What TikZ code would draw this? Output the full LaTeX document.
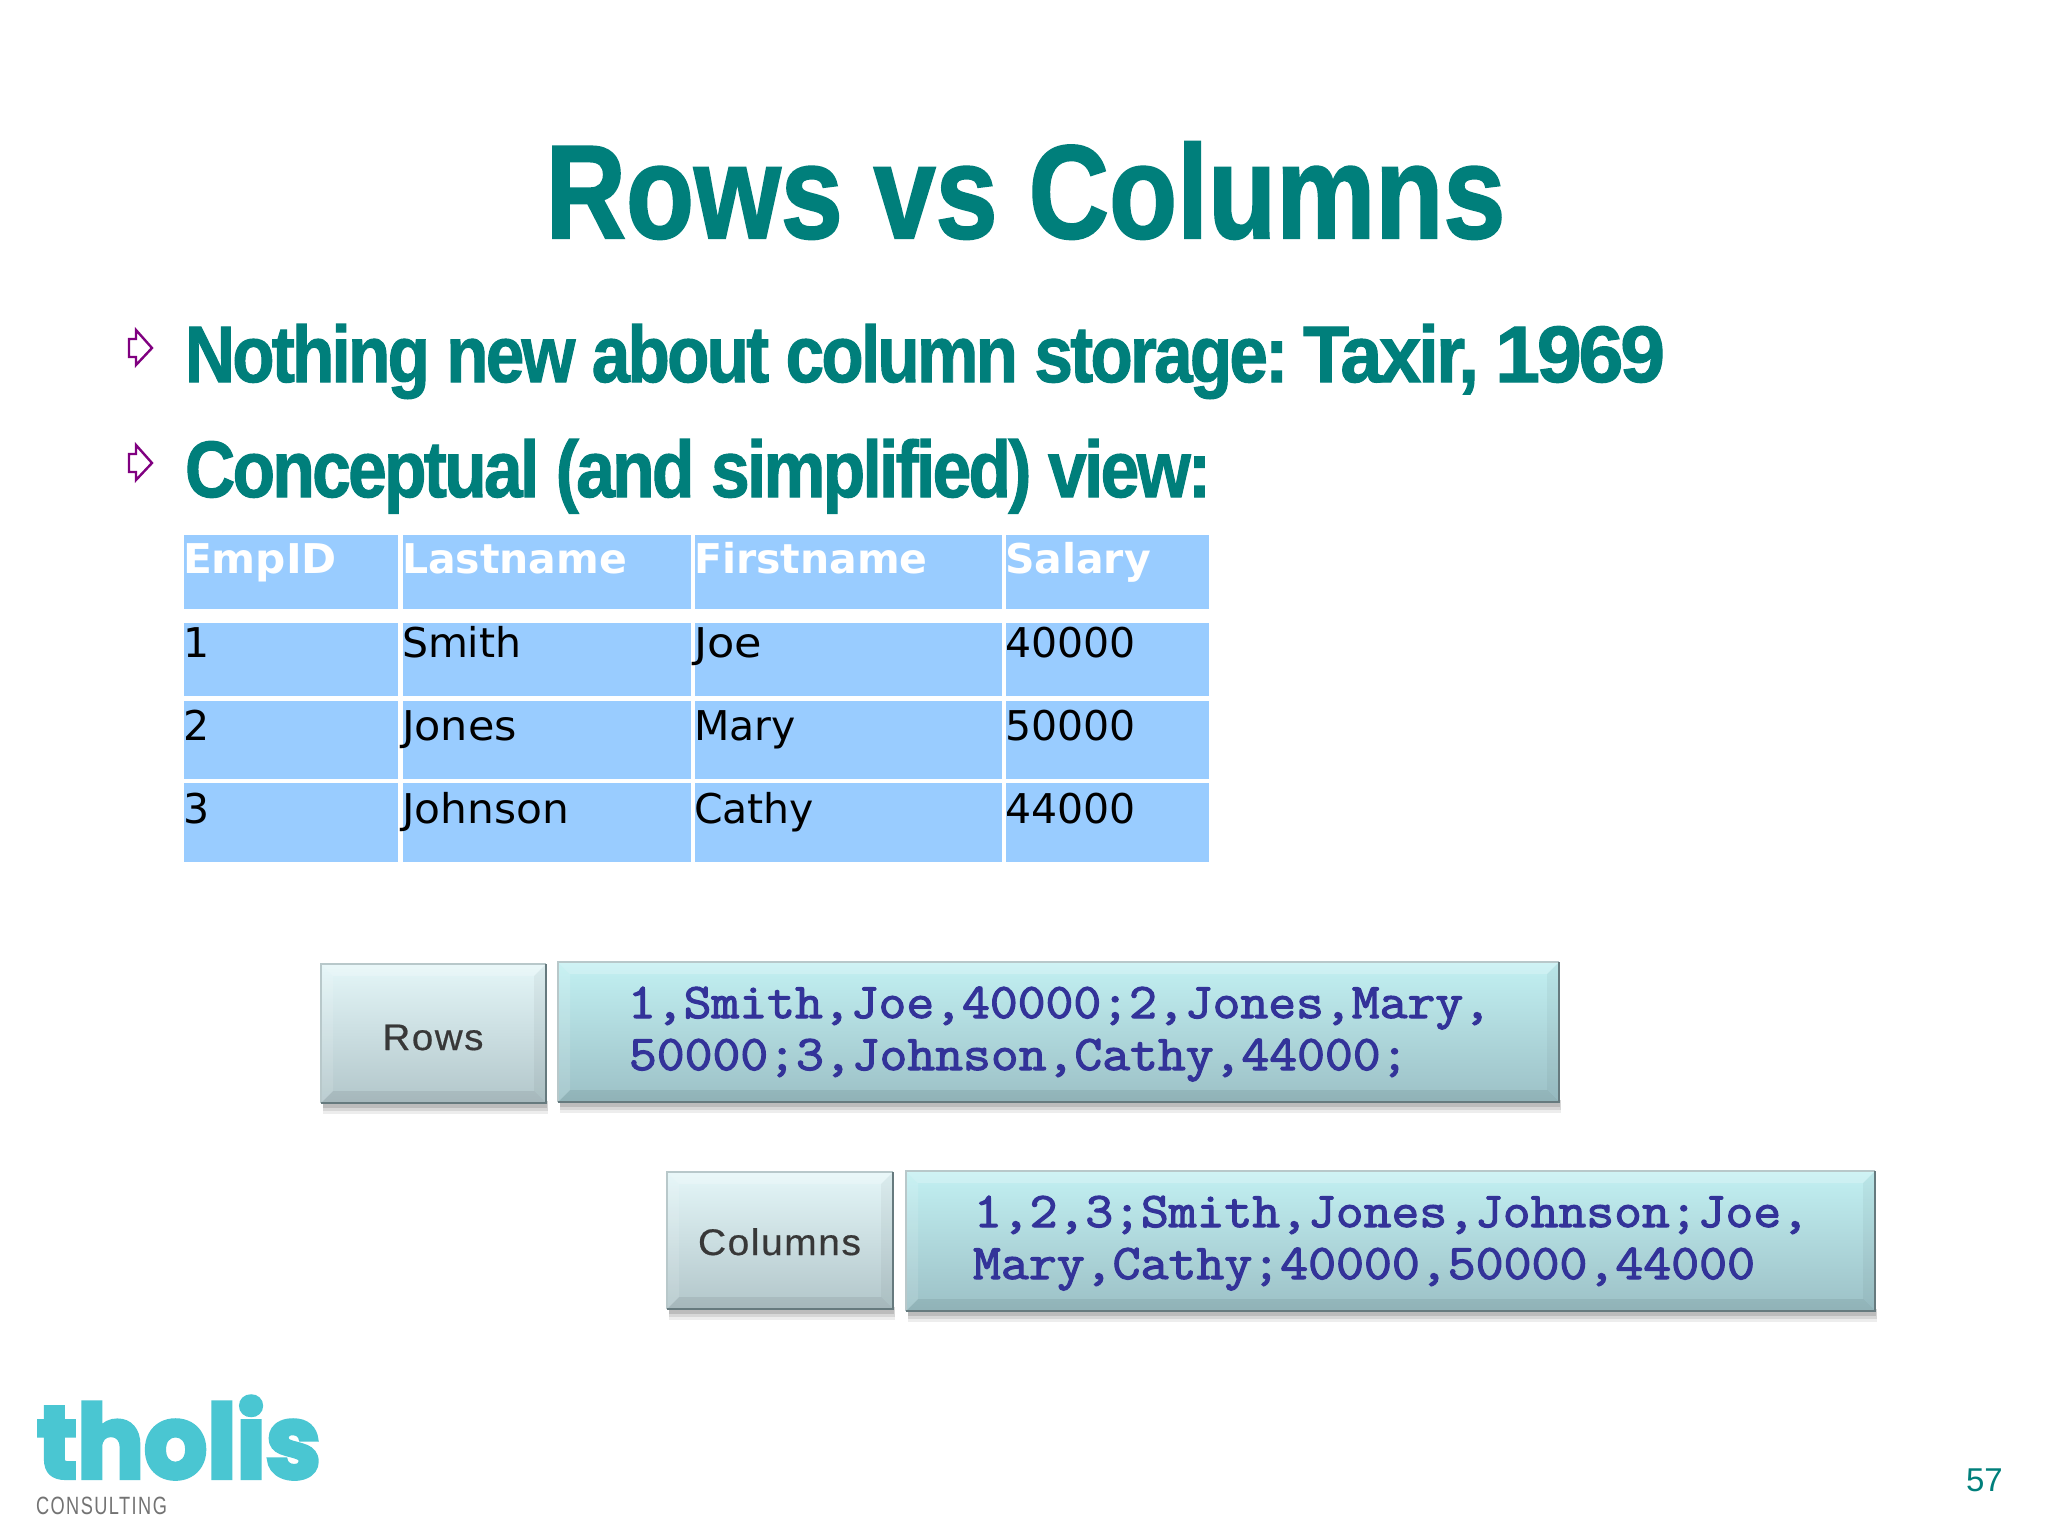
\documentclass[tikz,border=0pt]{standalone}
\usepackage{fontspec}
\usepackage{graphicx}
\usetikzlibrary{calc}
\setmainfont{Liberation Sans}
\newfontfamily\headfont[FakeBold=1.6]{Liberation Sans Bold}
\newfontfamily\bulfont[FakeBold=1.4,LetterSpace=-4]{Liberation Sans Bold}
\newfontfamily\cellfont{DejaVu Sans}
\newfontfamily\cellbold{DejaVu Sans Bold}
\newfontfamily\labelfont[LetterSpace=4,FakeBold=0.5]{Liberation Sans}
\newfontfamily\logofont[FakeBold=4]{Poppins Bold}
\newfontfamily\subfont[LetterSpace=8]{Liberation Sans}
\newfontfamily\slabmono[FakeBold=2.2]{Latin Modern Mono}
\definecolor{teal1}{HTML}{007F7B}
\definecolor{cellblue}{HTML}{99CCFF}
\definecolor{monoblue}{HTML}{333399}
\definecolor{logoc}{HTML}{4AC6D2}
\definecolor{labtop}{HTML}{E4F6F8}
\definecolor{labbot}{HTML}{B2C6CA}
\definecolor{valtop}{HTML}{C2F0F2}
\definecolor{valbot}{HTML}{9CC0C6}
\definecolor{edgelight}{HTML}{B8C8CA}
\definecolor{edgedark}{HTML}{667A7E}
\definecolor{bulpurple}{HTML}{800080}
\tikzset{
  x=1pt,y=-1pt,
  txt/.style={inner sep=0pt,outer sep=0pt,anchor=base west},
  cellbox/.style={draw=none,fill=cellblue,inner sep=0pt,anchor=north west},
  bevelface/.style={draw=none,inner sep=0pt,anchor=north west},
  bulletmark/.style={draw=bulpurple,fill=white,line width=2.4pt,line join=miter},
  monotxt/.style={txt,text=monoblue,font=\slabmono\fontsize{50}{50}\selectfont},
}
% name, x1,y1,x2,y2, text, baseline
\newcommand{\tcell}[8][\cellfont\color{black}]{%
  \node[cellbox,minimum width=#5pt-#3pt,minimum height=#6pt-#4pt] (#2) at (#3,#4) {};
  \node[txt,font=#1\fontsize{41}{41}\selectfont] (#2t) at (#3-1,#8) {#7};
}
% name,x1,y1,x2,y2,top,bottom
\newcommand{\bevelbox}[7]{%
  \foreach \o/\d in {0.07/11,0.09/8,0.12/5}{
    \fill[black,opacity=\o] (#2+2,#5-2) rectangle (#4+\d*0.2,#5+\d);
  }
  \node[bevelface,minimum width=#4pt-#2pt,minimum height=#5pt-#3pt,top color=#6,bottom color=#7] (#1) at (#2,#3) {};
  \fill[white,opacity=.22] (#2,#3) -- (#4,#3) -- (#4-12,#3+12) -- (#2+12,#3+12) -- cycle;
  \fill[black,opacity=.07] (#2,#5) -- (#4,#5) -- (#4-12,#5-12) -- (#2+12,#5-12) -- cycle;
  \fill[white,opacity=.12] (#2,#3) -- (#2+12,#3+12) -- (#2+12,#5-12) -- (#2,#5) -- cycle;
  \fill[black,opacity=.04] (#4,#3) -- (#4-12,#3+12) -- (#4-12,#5-12) -- (#4,#5) -- cycle;
  \draw[edgelight,line width=1.6pt] (#1.south west) -- (#1.north west) -- (#1.north east);
  \draw[edgedark,line width=2pt] (#1.north east) -- (#1.south east) -- (#1.south west);
}
\begin{document}
\begin{tikzpicture}
\path[use as bounding box,fill=white] (0,0) rectangle (2048,1535);

\node[txt,text=teal1,font=\headfont\fontsize{133}{133}\selectfont] (title) at (545.5,238) {\resizebox{960pt}{\height}{Rows vs Columns}};

\foreach \n/\yy in {b1/330,b2/445}{
  \draw[bulletmark] (129,\yy+9) -- (136,\yy+9) -- (136,\yy) -- (152,\yy+18) -- (136,\yy+35) -- (136,\yy+27) -- (129,\yy+27) -- cycle;
}
\node[txt,text=teal1,font=\bulfont\fontsize{80}{80}\selectfont] (l1) at (185,382) {\resizebox{1103pt}{\height}{Nothing new about column storage:}\hspace{15pt}\resizebox{176pt}{\height}{Taxir,}\hspace{16pt}\resizebox{170pt}{\height}{1969}};
\node[txt,text=teal1,font=\bulfont\fontsize{80}{80}\selectfont] (l2) at (185,497) {\resizebox{1026pt}{\height}{Conceptual (and simplified) view:}};

% header
\tcell[\cellbold\color{white}]{h1}{184}{535}{398}{609}{\resizebox{154pt}{\height}{EmpID}}{573}
\tcell[\cellbold\color{white}]{h2}{403}{535}{691}{609}{Lastname}{573}
\tcell[\cellbold\color{white}]{h3}{695}{535}{1002}{609}{Firstname}{573}
\tcell[\cellbold\color{white}]{h4}{1006}{535}{1209}{609}{Salary}{573}
% rows
\tcell{a1}{184}{623}{398}{696}{1}{657}
\tcell{a2}{403}{623}{691}{696}{Smith}{657}
\tcell{a3}{695}{623}{1002}{696}{\resizebox{68pt}{\height}{Joe}}{657}
\tcell{a4}{1006}{623}{1209}{696}{40000}{657}
\tcell{c1}{184}{701}{398}{779}{2}{740}
\tcell{c2}{403}{701}{691}{779}{\resizebox{115pt}{\height}{Jones}}{740}
\tcell{c3}{695}{701}{1002}{779}{Mary}{740}
\tcell{c4}{1006}{701}{1209}{779}{50000}{740}
\tcell{d1}{184}{783}{398}{862}{3}{823}
\tcell{d2}{403}{783}{691}{862}{\resizebox{167pt}{\height}{Johnson}}{823}
\tcell{d3}{695}{783}{1002}{862}{Cathy}{823}
\tcell{d4}{1006}{783}{1209}{862}{44000}{823}

% boxes
\bevelbox{rowlab}{321}{964}{546}{1103}{labtop}{labbot}
\bevelbox{rowval}{558}{962}{1559}{1102}{valtop}{valbot}
\bevelbox{collab}{667}{1172}{893}{1309}{labtop}{labbot}
\bevelbox{colval}{906}{1171}{1875}{1311}{valtop}{valbot}

\node[txt,text=black!78,font=\labelfont\fontsize{37}{37}\selectfont] (rowt) at (382.5,1050) {\resizebox{101pt}{\height}{Rows}};
\node[txt,text=black!78,font=\labelfont\fontsize{37}{37}\selectfont] (colt) at (698,1255) {\resizebox{163pt}{\height}{Columns}};

\node[monotxt] (rv1) at (628,1018) {\resizebox{863pt}{\height}{1,Smith,Joe,40000;2,Jones,Mary,}};
\node[monotxt] (rv2) at (629,1070) {\resizebox{779.5pt}{\height}{50000;3,Johnson,Cathy,44000;}};
\node[monotxt] (cv1) at (974,1227) {\resizebox{835pt}{\height}{1,2,3;Smith,Jones,Johnson;Joe,}};
\node[monotxt] (cv2) at (973,1279) {\resizebox{782pt}{\height}{Mary,Cathy;40000,50000,44000}};

% logo
\node[txt,text=logoc,font=\logofont\fontsize{102}{102}\selectfont] (logo) at (37,1478) {\resizebox{284pt}{\height}{tholis}};
\node[txt,text=black!55,font=\subfont\fontsize{25}{25}\selectfont] (logosub) at (36,1514) {\resizebox{131pt}{\height}{CONSULTING}};

\node[txt,text=teal1,font=\fontsize{33}{33}\selectfont] (pg) at (1966,1491) {57};
\end{tikzpicture}
\end{document}
